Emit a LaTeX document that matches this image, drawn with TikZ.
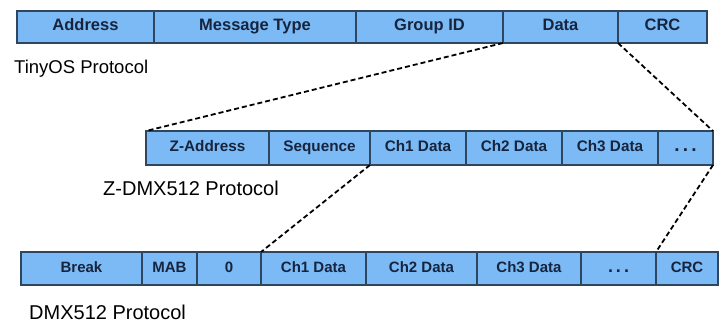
\documentclass[tikz,border=0pt]{standalone}
\usepackage{fontspec}
\setmainfont{Liberation Sans}
\definecolor{fieldfill}{RGB}{124,186,246}
\definecolor{fieldline}{RGB}{46,70,96}
\definecolor{fieldtext}{RGB}{22,36,62}
\begin{document}
\begin{tikzpicture}[x=1pt,y=-1pt,
    field/.style={draw=fieldline,fill=fieldfill,line width=1.3pt,inner sep=0pt,
      outer sep=0pt,text=fieldtext,text height=.72em,text depth=0pt,
      font=\bfseries\fontsize{#1}{#1}\selectfont},
    protolbl/.style={anchor=base west,inner sep=0pt,font=\fontsize{#1}{#1}\selectfont},
    link/.style={line width=1.8pt,dash pattern=on 5pt off 3pt}]
  \useasboundingbox (0,0) rectangle (723,323);
  % TinyOS frame
  \foreach \n/\l/\r/\t in {taddr/17/154/Address,tmsg/154/356/Message Type,
      tgrp/356/503/Group ID,tdata/503/618/Data,tcrc/618/707/CRC}
    \node[field=16.5,minimum width={\r-\l},minimum height=32] (\n) at ({(\l+\r)/2},27) {\t};
  \node[protolbl=18.5] (tinylbl) at (14,74) {TinyOS Protocol};
  % Z-DMX512 frame
  \foreach \n/\l/\r/\t in {zaddr/146/269/Z-Address,zseq/269/370/Sequence,
      zch1/370/466/Ch1 Data,zch2/466/562/Ch2 Data,zch3/562/658/Ch3 Data,
      zdots/658/713/{\fontsize{19}{19}\selectfont.\,.\,.}}
    \node[field=15.3,minimum width={\r-\l},minimum height=34] (\n) at ({(\l+\r)/2},148) {\t};
  \node[protolbl=20] (zdmxlbl) at (103,196) {Z-DMX512 Protocol};
  % DMX512 frame
  \foreach \n/\l/\r/\t in {dbrk/21/142/Break,dmab/142/197/MAB,dzero/197/261/0,
      dch1/261/366/Ch1 Data,dch2/366/477/Ch2 Data,dch3/477/581/Ch3 Data,
      ddots/581/656/{\fontsize{18}{18}\selectfont.\,.\,.},dcrc/656/718/CRC}
    \node[field=15,minimum width={\r-\l},minimum height=33] (\n) at ({(\l+\r)/2},268.5) {\t};
  \node[protolbl=20] (dmxlbl) at (29,319.5) {DMX512 Protocol};
  \draw[link] (tgrp.south east) -- (zaddr.north west);
  \draw[link] (tdata.south east) -- (zdots.north east);
  \draw[link] (zseq.south east) -- (dch1.north west);
  \draw[link] (zdots.south east) -- (dcrc.north west);
\end{tikzpicture}
\end{document}
